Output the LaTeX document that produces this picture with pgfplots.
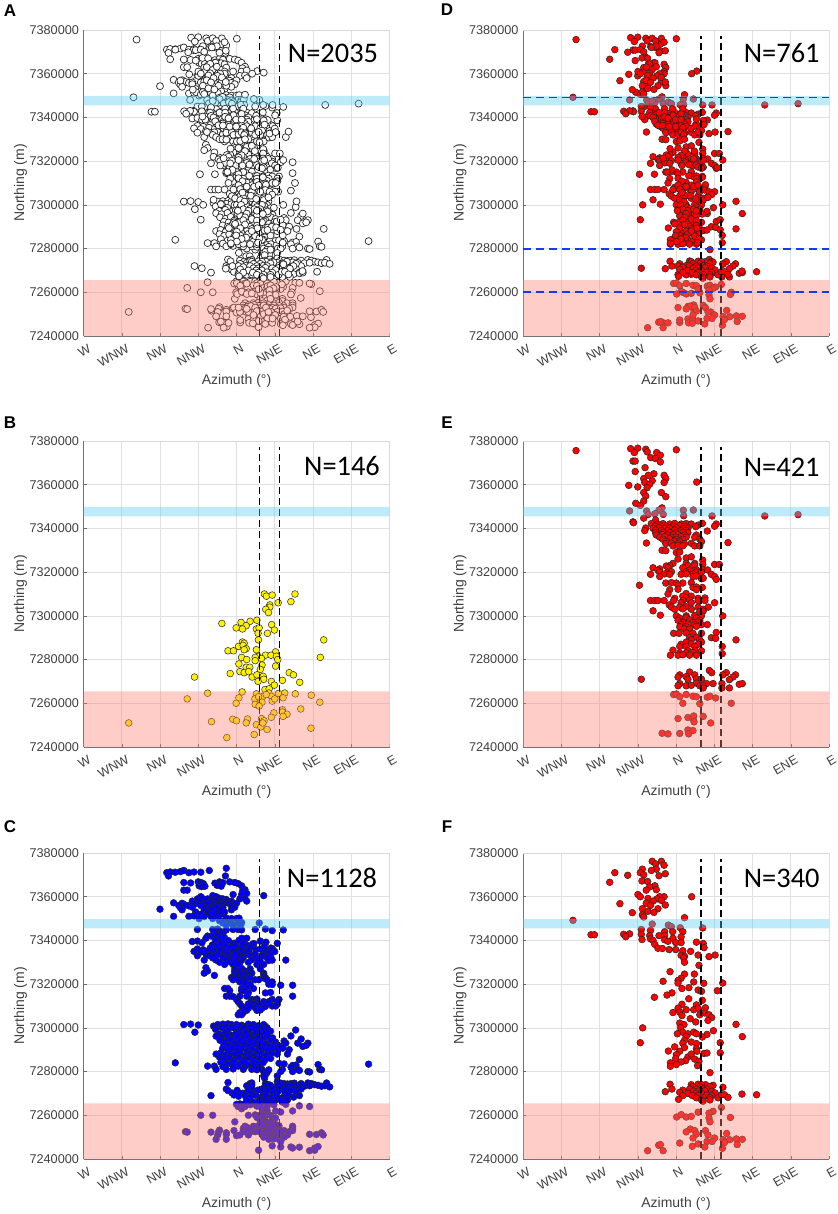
\documentclass[border=0pt]{standalone}
\usepackage{fontspec}
\usepackage{pgfplots}
\usepackage{pgfplotstable}
\pgfplotsset{compat=1.18}
\setmainfont{Liberation Sans}
\newfontfamily\calib{Carlito}
\definecolor{pinkov}{RGB}{255,130,115}
\definecolor{bluov}{RGB}{92,205,242}
\definecolor{tk}{gray}{0.25}
\definecolor{dblue}{RGB}{20,60,235}

\pgfplotstableread[row sep=\\]{x y\\
16.4 7310000\\17.6 7309000\\21 7309500\\34.4 7310000\\32 7306500\\24.5 7306000\\19.6 7305000\\19.6 7304000\\17.2 7303000\\18.8 7301500\\
12 7298000\\8 7297500\\2.7 7297000\\-8.6 7296500\\5.7 7295500\\-0.2 7294500\\3.5 7294000\\11.7 7294000\\13.3 7294500\\20.7 7296000\\
22.3 7293500\\18.2 7292000\\12.7 7292000\\12.9 7289000\\51.3 7289000\\3.5 7288000\\4.5 7287500\\1.2 7286000\\3.9 7286500\\5.7 7285000\\
4.5 7284500\\-5 7284000\\-1.8 7284000\\11.7 7284500\\23 7283500\\12.7 7281500\\11 7281000\\17 7282000\\20.3 7282000\\23.5 7281500\\
3 7281000\\6 7280000\\11 7279500\\14.7 7280500\\24.3 7280000\\49.3 7281000\\1.4 7278000\\15 7277500\\23 7277000\\5.7 7276500\\
7.8 7276500\\14 7275500\\2 7274500\\-3.7 7273600\\4.5 7274000\\7.2 7274500\\31 7274000\\33.5 7273000\\-24.7 7272000\\9.2 7272000\\
12 7273000\\15.7 7272300\\16 7271000\\12.7 7270000\\27 7270500\\37.2 7269600\\20.5 7270000\\22.3 7268300\\16.8 7266300\\19.2 7266600\\
3.3 7265200\\11.7 7264300\\-17 7264600\\19 7264700\\24.7 7264500\\28.4 7264700\\34.6 7264300\\44 7263700\\-29 7262000\\1.4 7262500\\
10.8 7262000\\15.7 7263200\\20.5 7263200\\27.4 7262500\\21 7261000\\15 7260500\\49 7260500\\-0.2 7260000\\11 7259500\\13.3 7258700\\
37.8 7257400\\27 7257000\\27 7256000\\29.7 7255000\\27.4 7254000\\22 7255600\\20.5 7253600\\14.7 7253000\\6.5 7252800\\-2.2 7252700\\
0 7252000\\-14.7 7251600\\16.2 7252000\\5.7 7251000\\-63.4 7251000\\11.7 7250200\\14.3 7249200\\18 7248000\\43.8 7248600\\10.4 7245700\\
-5.7 7244300\\17.5 7264000\\13 7263000\\22.5 7262000\\15.5 7251000\\
}\tabB

\pgfplotstableread[row sep=\\]{x y\\
-41 7371000\\-39 7371300\\-36 7371200\\-33 7371500\\-31 7372000\\-28 7371000\\-25 7371300\\-21 7371200\\-16 7372000\\-6 7373000\\-40 7369500\\-6.5 7369500\\
-31 7366500\\-27 7366300\\-22.5 7366800\\-21 7366500\\-19.5 7366000\\-12.7 7366200\\-10 7366800\\-8 7366400\\-4 7366800\\-1 7366500\\1 7366000\\
-22 7365000\\-20.5 7364600\\-18.6 7364800\\-11.4 7365200\\-9 7364800\\3 7365000\\-31 7363000\\-29 7363000\\5 7363200\\3.5 7362500\\
-2 7361000\\3 7361000\\6 7361500\\16 7360500\\-21 7360000\\-14 7360500\\-12 7360000\\
-23 7359000\\-20 7359200\\-17 7359000\\-14 7358800\\-10 7359300\\-8 7359000\\-6 7358700\\2 7359000\\5 7359200\\
-26 7358000\\-22 7358000\\-18 7358200\\-15 7357800\\-12 7358200\\-9 7358000\\-6 7357900\\-3 7358000\\6 7358000\\
-37 7357200\\-32 7357000\\-24 7356800\\-19 7357000\\-16 7357200\\-13 7356800\\-10 7357000\\-7 7357000\\-4 7356800\\0 7357000\\
-34 7356000\\-30 7356200\\-28 7355800\\-26 7356000\\-21 7356000\\-17 7356200\\-14 7355800\\-11 7356000\\-8 7356200\\-3 7355800\\
-33 7355000\\-26 7355200\\-18 7354800\\-15 7355000\\-12 7355200\\-8 7355000\\-1 7355200\\-45 7354300\\-32 7354000\\-19 7354000\\-14 7354200\\-9 7354000\\-3 7354000\\
-24 7353000\\-17 7353200\\-12 7352900\\-7 7353000\\-21 7352000\\-16 7352200\\-13 7351900\\-9 7352000\\
-37 7351000\\-28 7351000\\-25 7351200\\-19 7350900\\-15 7351000\\-11 7351200\\-22 7350000\\-14 7350000\\-6 7350200\\-3 7350000\\0 7350000\\1.5 7350200\\
-10 7349000\\-7 7349000\\-4 7349200\\-8 7348000\\-5 7348000\\-3 7347800\\1 7348000\\3 7348200\\13.4 7348000\\-6 7347000\\-2 7347000\\2.5 7347000\\
-23 7345000\\-14 7345000\\-11 7345200\\-6 7344800\\-2 7345000\\1 7345000\\3 7344800\\11 7345000\\17 7345200\\21 7344500\\27.5 7344800\\
-13 7344000\\-9 7344000\\-12 7343000\\-8 7343000\\-17 7342000\\-15 7342000\\-11 7342200\\-18 7341000\\-10 7341000\\-7 7341200\\3 7341000\\6 7341000\\
-26 7339500\\-23 7339700\\-20.3 7338900\\-12.4 7340200\\-7.6 7339200\\-4.7 7339900\\-1.5 7338700\\1.4 7340000\\4.5 7339100\\10.2 7338600\\14 7339700\\17.3 7339200\\24 7338700\\
-14.2 7337900\\-9.6 7338500\\-6.3 7337300\\-2.2 7338100\\0.4 7336900\\3.7 7338400\\6.6 7337600\\9.4 7338300\\
-15.5 7336500\\-11.6 7337200\\-8.3 7336100\\-4.4 7335800\\-0.7 7337400\\2.5 7336300\\5.2 7335700\\8.3 7336800\\16.4 7337300\\20.3 7336500\\
-23 7336100\\-19.6 7335700\\-16.2 7335300\\-12.7 7334900\\-9.8 7335600\\-6.8 7334400\\-3.5 7336800\\0.8 7334900\\3.2 7335100\\6.1 7334300\\11.5 7335800\\14.2 7336000\\17.8 7335100\\21.3 7336000\\
-25 7335000\\-21 7334700\\-18 7333700\\-10.7 7333700\\-7.8 7332900\\-5 7333500\\-1.6 7335300\\1.8 7333300\\4.4 7333700\\7.3 7335100\\11 7333900\\16 7334200\\19.5 7333800\\22.5 7334900\\
-23 7333000\\-16 7333000\\-13 7333200\\-3.2 7332600\\-0.4 7334000\\8 7333200\\15 7333000\\20 7332800\\
-14 7332000\\-8 7332200\\-5 7332000\\-2 7331800\\1 7332000\\4 7332200\\11 7332000\\14 7331800\\18 7332000\\
-19 7331000\\-12 7331000\\-6 7331200\\-3 7331000\\0 7330800\\3 7331000\\9 7331200\\13 7331000\\19 7330800\\21 7331000\\29 7331000\\
-10 7330000\\-4 7330200\\-1 7330000\\2 7329800\\7 7330000\\14 7330200\\-7 7329000\\-2 7329000\\1 7329200\\12 7329000\\16 7329000\\
-18 7327500\\-1 7327000\\3 7327200\\8 7327000\\14 7327000\\-17 7326000\\-1 7326000\\2 7326200\\5 7326000\\8 7325800\\
-19 7325000\\-1 7325000\\2 7325200\\5 7325000\\9 7325000\\16 7325000\\-13 7324000\\0 7324000\\3 7324200\\6 7324000\\16 7324000\\
-3 7323000\\0 7323000\\3 7322800\\6 7323000\\8 7323000\\16 7322800\\17 7323000\\-2 7322000\\1 7322000\\4 7322200\\11 7322000\\13 7322000\\18 7322000\\
2 7321000\\5 7321000\\21 7321000\\5 7320000\\8 7320000\\19 7320000\\21 7319800\\26 7319500\\33 7319500\\
-7 7318000\\-5 7318000\\3 7318000\\6 7318200\\10 7318000\\-4 7317000\\3 7317000\\5 7317000\\7 7316000\\17 7316000\\20 7316200\\
-6 7314500\\-4 7314500\\-2 7314300\\2 7314500\\6 7314500\\33 7314500\\0 7313000\\9 7313000\\12 7313200\\21 7313000\\25 7313000\\
1 7312000\\9 7312000\\11 7312200\\16 7312000\\19 7312000\\24 7312000\\2 7311000\\7 7311000\\10 7311200\\13 7311000\\18 7311000\\24 7310800\\
3 7310000\\8 7310000\\12 7310200\\14 7310000\\17 7309800\\21 7310000\\23 7310000\\5 7309000\\7 7309000\\11 7309200\\15 7309000\\
4 7308000\\6 7308000\\12 7308000\\14 7308200\\2 7307000\\4 7307000\\1 7306000\\3 7306000\\
-31 7301500\\-27 7301700\\-22.5 7301300\\-13.5 7300800\\-11 7301500\\-8 7301700\\-5 7301800\\-3 7301500\\0 7301500\\3 7301200\\7 7301700\\10 7301500\\13 7301000\\16 7301500\\17 7300700\\
-9 7300500\\-6 7300500\\-3 7300300\\0 7300500\\2 7300700\\5 7300500\\8 7300300\\11 7300500\\14 7300500\\18 7300000\\
-12.3 7299300\\-8.5 7300100\\-5.4 7298600\\-1.2 7299900\\1.7 7298300\\4.2 7300200\\7.4 7298800\\10.6 7299700\\13.3 7298400\\16.5 7299400\\20 7298500\\34.8 7299000\\
-24.5 7298000\\-10.2 7297200\\-6.6 7297700\\-3.2 7296700\\-0.4 7297400\\2.9 7296800\\5.6 7297900\\8.7 7296500\\11.3 7297800\\14.6 7296900\\17.4 7297500\\
-12 7296200\\-8.8 7295700\\-5.3 7296300\\-2 7295200\\0.6 7296000\\3.9 7295300\\6.8 7295900\\9.5 7294800\\12.5 7295600\\15.7 7295000\\18.6 7296000\\21.2 7295400\\32 7296300\\
-9.7 7294300\\-6.4 7293600\\-3.4 7294500\\-0.6 7293300\\2.4 7294200\\5.4 7293100\\8.3 7293900\\11.4 7293000\\14.2 7293800\\17.3 7292900\\20.4 7294300\\23 7293500\\28 7294000\\38 7294900\\
-7.4 7292300\\-4.6 7291900\\-1.4 7292700\\1.3 7291500\\4.3 7292500\\7.5 7291300\\10.3 7292300\\13.4 7291200\\16.2 7292400\\19.2 7291400\\22.3 7292100\\25.3 7291700\\29 7293000\\36 7293000\\42 7293000\\
-8.2 7290600\\-5.2 7289900\\-2.4 7290800\\0.5 7289600\\3.4 7290700\\6.3 7289500\\9.2 7290400\\12.3 7289300\\15.3 7290500\\18.3 7289600\\21.3 7290600\\24.4 7289700\\27.2 7290700\\31 7290000\\39 7291500\\41 7292000\\
-12 7288000\\-9.3 7288500\\-6.4 7287600\\-3.3 7288400\\-0.6 7287700\\2.2 7288600\\5.3 7287300\\8.2 7288300\\11 7287400\\14.4 7288200\\17.5 7287500\\20.6 7288400\\24 7288000\\30 7288000\\
-10 7286600\\-7.3 7285800\\-4.3 7286500\\-1.3 7285500\\1.6 7286400\\4.7 7285300\\7.6 7286300\\10.7 7285400\\13.7 7286200\\16.6 7285200\\20 7286000\\37 7285500\\
-36 7284000\\-9.2 7284300\\-5.3 7283600\\-2 7284500\\0.9 7283300\\3.8 7284400\\6.8 7283200\\9.7 7284200\\12.8 7283400\\15.7 7284100\\25 7283800\\28 7283500\\33 7282800\\35 7283000\\48 7283200\\
-17 7282500\\-13 7282500\\-8 7282300\\-2 7282500\\1 7282500\\5 7282300\\10 7282500\\13 7282300\\32 7282000\\77.7 7283400\\
-12 7281000\\-6 7281000\\-2 7281200\\4 7281000\\9 7281000\\12 7280800\\15 7281000\\19 7280800\\27 7281000\\36 7281000\\49 7281000\\
16 7280000\\18 7279500\\26 7280000\\33 7280000\\37 7280500\\42 7280000\\43 7279800\\50 7280800\\16 7278000\\17 7278500\\24 7278000\\16.5 7277000\\
-5 7275000\\24 7275500\\8 7274500\\9 7274800\\17 7274500\\19 7274000\\26 7274700\\28 7274500\\30 7274300\\32 7274500\\34 7274700\\38 7274500\\42 7274800\\44 7274500\\46 7274000\\53 7274800\\
6 7273500\\9 7273800\\17 7273500\\20 7273700\\24 7273500\\27 7273300\\30 7273500\\33 7273700\\36 7273500\\40 7273300\\43 7273500\\48 7273700\\50 7273300\\52 7273500\\54.8 7273000\\
-6 7272000\\7 7272000\\9 7272200\\15 7272000\\18 7271800\\22 7272000\\25 7272200\\28 7272000\\32 7271800\\35 7272000\\38 7272000\\
-5 7271300\\-2.6 7270200\\0.4 7271400\\3.6 7270100\\6.7 7271200\\9.6 7270000\\12.6 7271500\\15.6 7270400\\18.7 7271300\\21.6 7270300\\24.7 7271100\\28.6 7270200\\31.8 7271300\\35 7270700\\
-15 7269000\\-1.5 7269300\\1.2 7268700\\5.1 7268900\\8.2 7268300\\11.4 7269100\\14.3 7268100\\17.4 7269200\\20.5 7268200\\23.5 7269000\\26.8 7268000\\30.5 7269100\\33.6 7268300\\37 7269000\\
6 7267000\\14 7267200\\17 7267000\\20 7266800\\23 7267000\\26 7267200\\30 7267000\\10 7266000\\13 7266200\\16 7266000\\19 7265800\\22 7266000\\27 7266000\\
0 7265000\\2 7265200\\4 7265000\\8 7264800\\11 7265000\\14 7265200\\18 7265000\\22 7264800\\29 7265000\\1 7264000\\5 7264000\\12 7264200\\14 7264000\\18 7264000\\37 7264300\\43 7264000\\
3 7263000\\16 7262000\\18 7262200\\23 7262000\\26 7261500\\33 7262000\\-21 7260000\\-14 7260000\\7 7260000\\11 7260200\\14 7260000\\17 7259800\\20 7260000\\
12 7259000\\16 7259200\\21 7259000\\23 7258800\\-1 7257000\\14 7257000\\17 7257200\\20 7257000\\15 7256000\\18 7256200\\21 7256000\\23 7255800\\
5 7255000\\10 7255000\\13 7255200\\16 7255000\\19 7254800\\22 7255000\\25 7255200\\33 7255000\\4 7254000\\7 7254200\\10 7254000\\13 7253800\\16 7254000\\19 7254200\\22 7254000\\25 7253800\\33 7254000\\
-10 7253200\\-1.5 7253000\\4 7253000\\6 7253200\\9 7253000\\12 7252800\\15 7253000\\18 7253200\\21 7253000\\24 7252800\\28 7253000\\33 7253000\\
-30 7252500\\-29 7252300\\-15 7252300\\-10.5 7252500\\-6 7252000\\5 7252500\\8 7252300\\11 7252500\\14 7252700\\17 7252500\\20 7252300\\23 7252500\\26 7252700\\31 7252500\\
-11 7251000\\-6 7251200\\0 7250700\\2 7251000\\7 7251000\\15 7251200\\18 7251000\\21 7250800\\24 7251000\\27 7251200\\30 7251000\\43 7251300\\47 7251200\\50 7252000\\51 7251000\\
16 7250000\\19 7250200\\22 7250000\\28 7250000\\-12 7249000\\-6 7249000\\19 7249000\\22 7249200\\25 7249000\\26 7248000\\
21 7246000\\32 7245500\\33 7245000\\37 7245400\\26 7245500\\46 7245000\\48 7245700\\13 7244000\\46 7244000\\43 7243800\\
}\tabC

\pgfplotstableread[row sep=\\]{x y\\
-58.8 7375600\\-26.7 7376500\\-22.5 7376700\\-24.5 7374700\\-17.8 7376200\\-16.9 7375000\\0.2 7376000\\-11.4 7374700\\-9.2 7373500\\-14.9 7372400\\-12.2 7372000\\-9.2 7370400\\-25.3 7370800\\-24 7370800\\
-24 7366000\\-18.2 7367800\\-13 7365000\\-16.3 7364300\\-19 7362800\\-7 7364300\\-6 7362800\\-7 7361000\\12.2 7361200\\-18.4 7361000\\-14 7361800\\-15.5 7360200\\-27.8 7359700\\-22.5 7359000\\-17 7358600\\
-19 7356400\\-8.6 7356400\\-6 7354500\\-17.8 7354800\\-19 7352500\\-23.7 7351500\\-21 7350500\\-27.3 7348000\\-17.3 7348000\\-8.2 7349400\\-10 7348400\\4.3 7348300\\10.2 7348400\\-12.4 7346700\\-16.3 7346400\\-7.5 7346400\\4.5 7345800\\21.2 7345700\\52.2 7345700\\71.8 7346300\\-19 7344700\\-12 7343800\\
-25.3 7343000\\-25 7342600\\-14.5 7342200\\-10.6 7342000\\-7.6 7342200\\-3.7 7342000\\-0.8 7342300\\3.1 7342000\\6 7342200\\9 7342000\\13 7341500\\15.5 7342300\\23.7 7342000\\
-12.5 7341000\\-9.2 7341200\\-5.7 7341000\\-1.8 7341000\\2.2 7341200\\5 7341000\\11.6 7340800\\22.7 7341000\\-17.8 7340200\\-13.5 7340000\\-10 7340200\\-6.7 7340000\\-3.7 7340000\\0.2 7340200\\4 7340000\\7 7340000\\
-18.4 7339000\\-12 7339200\\-8.6 7339000\\-4.7 7339000\\-0.8 7339200\\3 7339000\\6 7339000\\18.4 7338800\\-12 7338000\\-7.6 7338200\\-3.7 7338000\\-0.2 7338000\\4 7338200\\7 7338000\\
-11.6 7337000\\-8 7337200\\-4.7 7337000\\-1.8 7337000\\1.2 7337200\\5 7337000\\12 7337000\\-9.6 7336000\\-6.7 7336200\\-2.7 7336000\\0.2 7336000\\3 7336200\\6 7336000\\11 7336000\\
-7.6 7335000\\-3.7 7335200\\0.2 7335000\\4 7335000\\14 7335000\\-5.7 7334000\\-0.8 7334200\\2.2 7334000\\15 7334000\\-17.4 7333300\\-6 7333000\\-2.7 7333200\\1.2 7333000\\5 7333000\\9 7333200\\30.6 7333500\\
-1.8 7332000\\1.2 7332200\\4 7332000\\11 7332000\\14 7332000\\-8.2 7330000\\-6 7329800\\0.2 7329000\\2.2 7329200\\1.2 7326000\\6 7326500\\9 7327000\\15.7 7325500\\15.7 7323500\\
-1.8 7324000\\6 7324000\\11 7324000\\22.7 7323500\\25.5 7323500\\-3.7 7323000\\-5.7 7322800\\7 7323000\\11 7323200\\-13.5 7322000\\-9.6 7321500\\-4.7 7322000\\4 7322000\\
-10.6 7320800\\8 7321000\\12 7321000\\15.7 7321200\\18.6 7321000\\-4.7 7320000\\-2.7 7320200\\-9.6 7320000\\6 7320000\\12 7320000\\15 7320000\\-15 7319000\\-6.7 7319200\\-3.7 7319000\\3 7319000\\6 7319200\\10 7319000\\20.8 7319000\\
-9.6 7318000\\10 7318000\\12 7318200\\22.7 7318000\\15 7317000\\16 7317200\\23.7 7316700\\-6 7315000\\-2.7 7315200\\0.2 7315000\\4 7315000\\9 7315200\\-21.5 7314000\\1.2 7314000\\10 7313000\\12 7313200\\15.5 7313000\\-3.7 7312000\\1.2 7312200\\12 7312000\\
-4.7 7310000\\6 7310200\\4 7309000\\9 7309000\\-0.8 7308000\\6 7308200\\13 7308000\\17 7308200\\-15 7307000\\-12.5 7307000\\-10.6 7307000\\-7 7307000\\-1.4 7307000\\4 7307000\\8 7307200\\13 7307000\\17 7307000\\3 7306000\\9 7306000\\22.7 7306000\\
-4 7305000\\-2.7 7304000\\2.2 7304000\\6 7304200\\13 7304000\\19 7304000\\-0.8 7303000\\4 7303200\\9 7303000\\16 7303000\\-13.5 7302300\\14 7302000\\16 7302200\\
-9.2 7300300\\0.2 7300000\\6 7300000\\11 7300200\\15 7300000\\27.5 7300000\\2.2 7299000\\6 7299200\\12 7299000\\1.2 7298000\\8 7298200\\14 7298000\\4 7297000\\10 7297000\\13 7297200\\3 7296000\\7 7296200\\11 7296000\\15 7296000\\18.4 7296000\\
2.2 7295000\\6 7295000\\12 7295200\\5 7294000\\8 7294000\\-1.4 7292000\\1.8 7292000\\6 7292200\\10 7292000\\15 7292000\\23.7 7292400\\8 7290000\\12 7290200\\20.8 7290000\\23.3 7289700\\35.3 7289000\\9 7289000\\14 7289000\\
6 7288000\\15 7288000\\3 7287000\\9 7287200\\13 7287000\\2.2 7286000\\6 7286000\\11 7286000\\27.2 7286000\\-1.8 7284300\\7 7284000\\11 7284200\\15 7284000\\2.2 7283000\\6 7283000\\10 7283200\\27.2 7282700\\-3.3 7282000\\1.2 7282000\\4 7282200\\8 7282000\\12 7282000\\
19.6 7275000\\8 7274300\\21 7274000\\29.6 7274000\\2.2 7273000\\11 7273000\\27.5 7273000\\35 7273000\\1.2 7272000\\6 7272200\\33.5 7272000\\-20.4 7271000\\7 7271000\\12 7271200\\15 7271000\\31.4 7270800\\
2.2 7269000\\12 7269200\\18 7269000\\21.8 7269000\\27 7269000\\37.2 7268700\\39 7269000\\1.2 7268000\\6 7268000\\9 7268200\\14 7268000\\16 7268000\\27 7267000\\31.4 7267000\\16 7267000\\
-1.4 7264000\\0.2 7264200\\6 7264000\\2.2 7263000\\10 7263200\\12 7263000\\18.4 7262800\\20 7263200\\23.3 7262400\\4 7260000\\14 7259800\\32.5 7260000\\1.2 7253000\\7 7253500\\10 7253000\\16 7254000\\10.4 7254200\\10.6 7251500\\20.4 7251000\\7 7247800\\10 7247500\\-8.2 7246300\\-4.7 7246000\\2.2 7246200\\7.4 7246000\\
}\tabE

\pgfplotstableread[row sep=\\]{x y\\
-14 7376200\\-8.6 7376200\\-12 7375000\\-7 7374400\\-19.8 7372600\\-11.6 7372600\\-14.5 7372000\\-21 7371000\\-36 7371000\\-6.3 7370500\\-19 7370000\\-10 7369600\\-28.4 7369800\\-39 7366600\\-20 7367200\\-16.7 7367000\\-12.4 7365000\\-15.5 7364500\\-17.5 7363000\\-11.6 7363200\\
-22.4 7361000\\-21 7360000\\-7 7360000\\9.2 7360000\\-9.6 7360000\\-16.5 7359200\\-11.2 7359000\\-13.5 7358000\\-8.6 7358300\\-6.3 7356200\\-33 7356800\\-17.5 7357000\\-15 7356000\\-19.8 7354500\\-10.6 7354500\\-25.7 7352700\\-16.5 7353300\\-13 7352800\\-19.8 7351600\\-19 7350700\\5 7350400\\-60.6 7349200\\
-14 7347500\\-4.5 7347000\\-2.7 7346300\\2.5 7345800\\15.7 7345700\\-20.4 7345000\\-15 7344600\\-6.7 7344000\\-2 7344000\\4 7344000\\-30.8 7342800\\-27.3 7343000\\-50 7342600\\-48 7342600\\-29.6 7341700\\-20.4 7342800\\-15.5 7342200\\-10 7342200\\-6.7 7342200\\3 7341600\\
-20 7340400\\-15 7340700\\-13.5 7340000\\-6.7 7340300\\-1.8 7341000\\-4.7 7339600\\-0.2 7339000\\3 7339000\\12 7339200\\16 7338600\\16.5 7336700\\-12.5 7338200\\-10.6 7336400\\-8 7336300\\-4 7335800\\-0.2 7335800\\4 7335300\\8.6 7335000\\3 7333200\\5 7332700\\13 7333300\\19.4 7332600\\23 7333300\\4.5 7332000\\5 7330000\\13.5 7328600\\
-3.5 7325700\\5 7324600\\10.8 7324600\\3 7322700\\1.2 7321700\\-7.6 7321300\\10.4 7321000\\16.3 7320400\\27.5 7320500\\1.2 7320500\\3.5 7318000\\7.6 7318400\\13 7317300\\15 7316700\\24.3 7317000\\-2.4 7316000\\-5.3 7315000\\-12.7 7314000\\7.5 7313300\\15.5 7312600\\
3.5 7310800\\1.2 7309000\\12 7310500\\17.3 7309200\\6 7308300\\10.4 7308300\\13 7309000\\2.2 7307200\\-1.8 7307000\\16.9 7306800\\3.5 7305600\\14 7306000\\19.4 7306000\\21 7304700\\8.4 7304200\\18.8 7303400\\11.6 7302700\\2.2 7302200\\35.3 7301600\\4.7 7301500\\-19.6 7300000\\2.7 7300000\\
22 7298700\\10.4 7298000\\4 7298000\\0.8 7297300\\7 7297300\\12 7297300\\18.2 7297000\\6 7296000\\15.5 7295800\\39 7296000\\5 7294300\\9 7293500\\-21 7293200\\26 7293200\\12 7292800\\4 7293000\\-0.8 7291300\\5 7291000\\12 7290500\\-4.5 7289400\\2.2 7289300\\12.3 7289300\\16.5 7288300\\18.2 7288500\\26 7288600\\
0.2 7287700\\-0.2 7286000\\7 7286700\\11 7285700\\9 7288000\\5.7 7285000\\3 7284400\\13.5 7284700\\-3.3 7284000\\0.2 7283200\\-3.3 7282400\\12.7 7282700\\20 7279500\\
-3.5 7274200\\17.4 7274000\\21.8 7273700\\9 7274000\\13 7274200\\15 7274000\\27.6 7272800\\-2.4 7272000\\-6.3 7270800\\4 7271500\\2.2 7270500\\10 7273000\\14 7273000\\20 7273200\\8 7272000\\12 7272000\\16 7272200\\18 7272000\\10 7271000\\13 7271000\\17 7271200\\21 7271000\\7 7270000\\11.6 7270000\\15 7270000\\23 7270200\\9.6 7269000\\13 7269000\\18 7269200\\21 7269000\\
12 7268000\\16 7268000\\20 7268000\\24.7 7268000\\15 7267000\\20 7267000\\38.8 7269700\\47.4 7269400\\26.7 7269400\\28.5 7269400\\30.6 7268200\\4 7269000\\1.5 7267300\\15.9 7266400\\
26.7 7263600\\13 7261400\\21.8 7261800\\19.4 7261000\\0.4 7259200\\3.1 7260300\\6 7259200\\9 7259500\\19.4 7258800\\32 7259000\\20 7257000\\8.4 7253700\\6 7252400\\11 7253000\\17.3 7253000\\12 7251400\\18.8 7251000\\29.8 7251700\\10 7249600\\22.7 7249600\\18.2 7248000\\21.2 7248000\\27.7 7248800\\31.6 7248800\\28.5 7247500\\35.5 7249200\\39 7249000\\2.2 7247300\\13 7246900\\36 7246600\\-10.2 7246300\\-9.2 7246600\\9.6 7245800\\16.9 7245500\\27.3 7244900\\-16.7 7243800\\-7.6 7243800\\
}\tabF

\pgfplotsset{
  panel/.style={
    scale only axis, width=306pt, height=306pt, anchor=south west,
    clip marker paths=true,
    xmin=-90, xmax=90, ymin=7240000, ymax=7380000,
    xtick={-90,-67.5,-45,-22.5,0,22.5,45,67.5,90},
    xticklabels={W,WNW,NW,NNW,N,NNE,NE,ENE,E},
    ytick={7240000,7260000,7280000,7300000,7320000,7340000,7360000,7380000},
    scaled y ticks=false,
    axis x line*=bottom, axis y line*=left,
    axis line style={draw=black!55, line width=0.8pt, -},
    grid=major, grid style={draw=black!12, line width=0.6pt},
    tick align=inside, major tick length=3pt, tick style={draw=black!60, line width=0.5pt},
    /pgf/number format/fixed, /pgf/number format/precision=0, /pgf/number format/1000 sep={}, /pgf/number format/assume math mode=true,
    tick label style={font=\fontsize{12.7}{14}\selectfont, text=tk},
    yticklabel style={xshift=-1pt},
    xticklabel style={rotate=30, anchor=north east, xshift=3pt, yshift=-5pt},
    xlabel={Azimuth (°)}, ylabel={Northing (m)},
    every axis x label/.style={at={(axis description cs:0.5,-0.147)}, anchor=center, font=\fontsize{14}{16}\selectfont, text=tk},
    every axis y label/.style={at={(axis description cs:-0.206,0.5)}, rotate=90, anchor=center, font=\fontsize{14}{16}\selectfont, text=tk},
  },
  pts/.style={only marks, mark=*, mark size=3.4pt, mark options={fill=#1, draw=black!85, line width=0.5pt}},
  ptsA/.style={only marks, mark=*, mark size=3.5pt, mark options={fill=white, draw=black!85, line width=0.7pt}},
  vd/.style={black, line width=1.5pt, dash pattern=on 7pt off 4pt, no markers},
  bd/.style={dblue, line width=1.5pt, dash pattern=on 8pt off 5pt, no markers},
  ov/.style={draw=none, fill=#1, fill opacity=0.4, no markers},
}
\newcommand\overlays[2]{%
  \addplot[vd] coordinates {(#1,7240000) (#1,7377200)};
  \addplot[vd] coordinates {(#2,7240000) (#2,7377200)};
}
\newcommand\bands{%
  \addplot[ov=pinkov] coordinates {(-90,7240000) (90,7240000) (90,7265500) (-90,7265500) (-90,7240000)};
  \addplot[ov=bluov] coordinates {(-90,7345500) (90,7345500) (90,7349800) (-90,7349800) (-90,7345500)};
  \draw[black!15, line width=0.6pt] (axis cs:-90,7380000) -- (axis cs:90,7380000) -- (axis cs:90,7240000);
}

\begin{document}
\begin{tikzpicture}
\path[use as bounding box] (0pt,0pt) rectangle (837pt,1214pt);

% A
\begin{axis}[panel, at={(83.5pt,878pt)}]
\addplot[ptsA] table[x=x,y=y]{\tabB};
\addplot[ptsA] table[x=x,y=y]{\tabC};
\addplot[ptsA] table[x=x,y=y]{\tabE};
\addplot[ptsA] table[x=x,y=y]{\tabF};
\overlays{13.4}{25.2}
\bands
\end{axis}
% B
\begin{axis}[panel, at={(83.5pt,467pt)}]
\addplot[pts=yellow] table[x=x,y=y]{\tabB};
\overlays{13.4}{25.2}
\bands
\end{axis}
% C
\begin{axis}[panel, at={(83.5pt,55pt)}]
\addplot[pts=blue] table[x=x,y=y]{\tabC};
\overlays{13.4}{25.2}
\bands
\end{axis}
% D
\begin{axis}[panel, at={(523pt,878pt)}]
\addplot[pts=red] table[x=x,y=y]{\tabE};
\addplot[pts=red] table[x=x,y=y]{\tabF};
\overlays{14.7}{26.5}
\bands
\addplot[bd] coordinates {(-90,7349000) (90,7349000)};
\addplot[bd] coordinates {(-90,7279700) (90,7279700)};
\addplot[bd] coordinates {(-90,7260100) (90,7260100)};
\end{axis}
% E
\begin{axis}[panel, at={(523pt,467pt)}]
\addplot[pts=red] table[x=x,y=y]{\tabE};
\overlays{14.7}{26.5}
\bands
\end{axis}
% F
\begin{axis}[panel, at={(523pt,55pt)}]
\addplot[pts=red] table[x=x,y=y]{\tabF};
\overlays{14.7}{26.5}
\bands
\end{axis}

% N labels
\foreach \px/\py/\t in {333/1161/N=2035, 342/748/N=146, 332/336/N=1128, 781.7/1161/N=761, 781.7/747/N=421, 781.7/336/N=340}{
  \node[font=\calib\fontsize{28.4}{30}\selectfont, anchor=center] at (\px pt,\py pt) {\t};
}
% Panel letters
\foreach \px/\py/\t in {10/1203/A, 10/791/B, 10/387/C, 447/1204/D, 447/791/E, 447/387/F}{
  \node[font=\bfseries\fontsize{17}{19}\selectfont, anchor=center] at (\px pt,\py pt) {\t};
}
\end{tikzpicture}
\end{document}
